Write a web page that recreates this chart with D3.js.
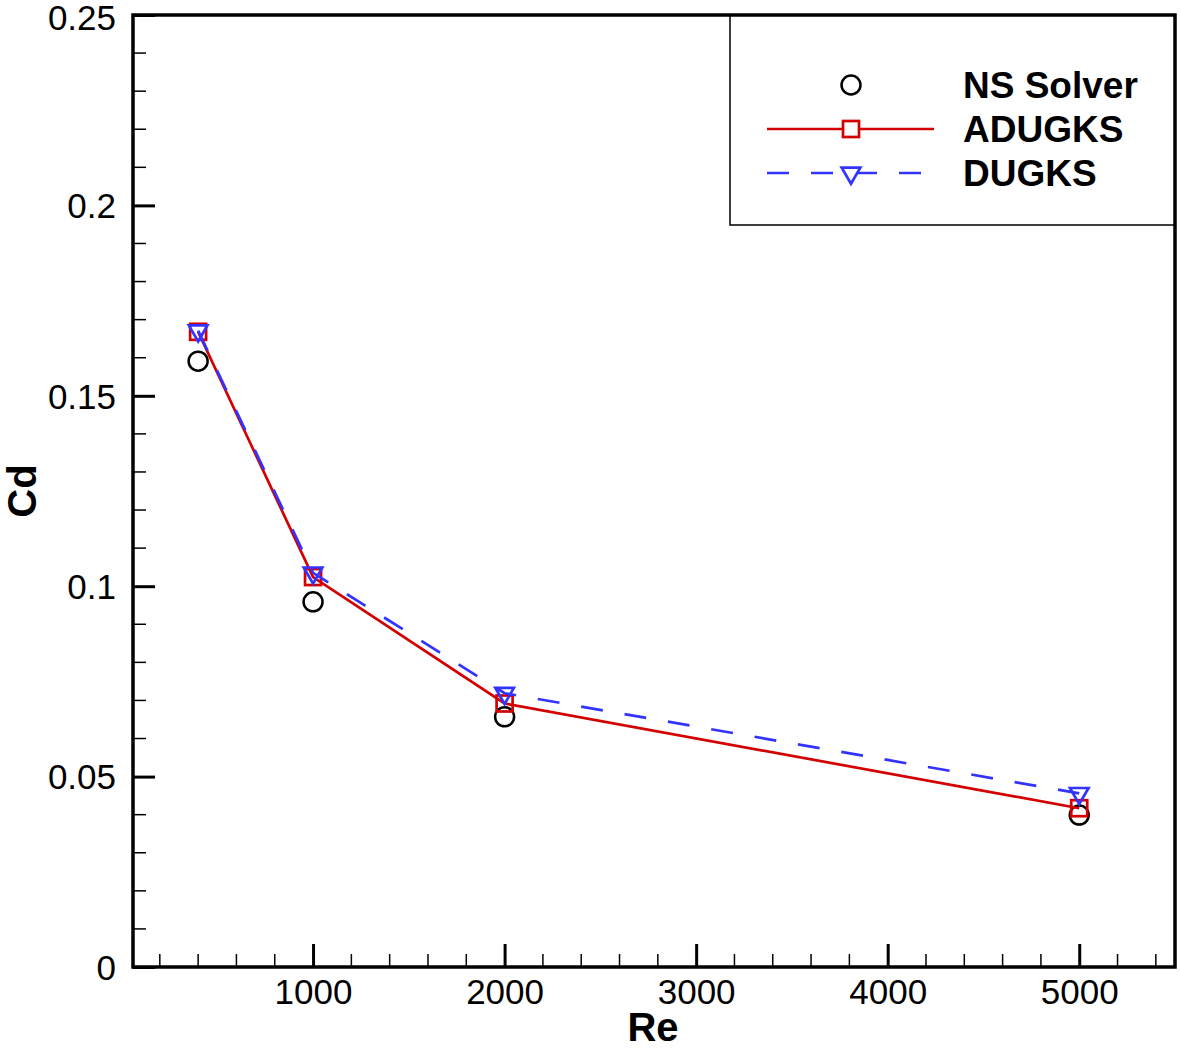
<!DOCTYPE html>
<html>
<head>
<meta charset="utf-8">
<script src="https://cdn.jsdelivr.net/npm/d3@7"></script>
<style>
  body { margin: 0; background: white; }
  svg { font-family: Arial, "Liberation Sans", sans-serif; }
</style>
</head>
<body>
<div id="chart"></div>
<script>
// data
let re_values = [400, 1000, 2000, 5000];
let ns_cd = [0.1591, 0.0959, 0.0657, 0.0399];
let adugks_cd = [0.1668, 0.1024, 0.0692, 0.0417];
let dugks_cd = [0.1671, 0.1035, 0.0719, 0.0456];
let x_ticks = [1000, 2000, 3000, 4000, 5000];
let y_ticks = [0, 0.05, 0.1, 0.15, 0.2, 0.25];
let legend_names = ["NS Solver", "ADUGKS", "DUGKS"];

let chart_width = 1180;
let chart_height = 1050;
let plot_left = 133, plot_right = 1175, plot_top = 15, plot_bottom = 967;

let svg = d3.select("#chart")
    .append("svg")
    .attr("width", chart_width)
    .attr("height", chart_height);

let xScale = d3.scaleLinear()
    .domain([60, 5500])
    .range([plot_left, plot_right]);

let yScale = d3.scaleLinear()
    .domain([0, 0.25])
    .range([plot_bottom, plot_top]);

// minor ticks
let x_minor = d3.range(200, 5500, 200).filter(function(v) { return v % 1000 != 0; });
let y_minor = d3.range(1, 25).filter(function(i) { return i % 5 != 0; }).map(function(i) { return i / 100; });

svg.append("g")
    .selectAll("line")
    .data(x_minor)
    .enter()
    .append("line")
    .attr("x1", function(d) { return xScale(d); })
    .attr("x2", function(d) { return xScale(d); })
    .attr("y1", plot_bottom)
    .attr("y2", plot_bottom - 13)
    .attr("stroke", "black")
    .attr("stroke-width", 1.5);

svg.append("g")
    .selectAll("line")
    .data(y_minor)
    .enter()
    .append("line")
    .attr("x1", plot_left)
    .attr("x2", plot_left + 13)
    .attr("y1", function(d) { return yScale(d); })
    .attr("y2", function(d) { return yScale(d); })
    .attr("stroke", "black")
    .attr("stroke-width", 1.5);

// major axes
let x_axis = svg.append("g")
    .attr("transform", "translate(0," + plot_bottom + ")")
    .call(d3.axisBottom(xScale).tickValues(x_ticks).tickSize(-23).tickSizeOuter(0)
        .tickFormat(d3.format("d")));

let y_axis = svg.append("g")
    .attr("transform", "translate(" + plot_left + ",0)")
    .call(d3.axisLeft(yScale).tickValues(y_ticks).tickSize(-22).tickSizeOuter(0)
        .tickFormat(function(d) { return d == 0 ? "0" : String(+d.toFixed(2)); }));

svg.selectAll(".tick line").attr("stroke-width", 3);
svg.selectAll(".domain").remove();
x_axis.attr("font-size", 35).attr("font-family", "Arial, 'Liberation Sans', sans-serif");
y_axis.attr("font-size", 35).attr("font-family", "Arial, 'Liberation Sans', sans-serif");
svg.selectAll(".tick text").attr("fill", "black");
x_axis.selectAll(".tick text").attr("y", 12).attr("dy", "0.71em");
y_axis.selectAll(".tick text").attr("x", -17).attr("dy", "0.35em");
// keep the top label inside the page
y_axis.selectAll(".tick").filter(function(d) { return d == 0.25; }).select("text").attr("dy", "0.42em");

// frame
svg.append("rect")
    .attr("x", plot_left)
    .attr("y", plot_top)
    .attr("width", plot_right - plot_left)
    .attr("height", plot_bottom - plot_top)
    .attr("fill", "none")
    .attr("stroke", "black")
    .attr("stroke-width", 3.5);

let chart_line = d3.line()
    .x(function(d) { return xScale(d[0]); })
    .y(function(d) { return yScale(d[1]); });

let zip = function(ys) { return re_values.map(function(x, i) { return [x, ys[i]]; }); };

let red = "#d40000";
let blue = "#3333ff";

// NS Solver circles
svg.append("g")
    .selectAll("circle")
    .data(zip(ns_cd))
    .enter()
    .append("circle")
    .attr("cx", function(d) { return xScale(d[0]); })
    .attr("cy", function(d) { return yScale(d[1]); })
    .attr("r", 9.5)
    .attr("fill", "none")
    .attr("stroke", "black")
    .attr("stroke-width", 2.5);

// ADUGKS
svg.append("path")
    .attr("d", chart_line(zip(adugks_cd)))
    .attr("fill", "none")
    .attr("stroke", red)
    .attr("stroke-width", 2.7);

svg.append("g")
    .selectAll("rect")
    .data(zip(adugks_cd))
    .enter()
    .append("rect")
    .attr("x", function(d) { return xScale(d[0]) - 8; })
    .attr("y", function(d) { return yScale(d[1]) - 8; })
    .attr("width", 16)
    .attr("height", 16)
    .attr("fill", "none")
    .attr("stroke", red)
    .attr("stroke-width", 2.7);

// DUGKS
svg.append("path")
    .attr("d", chart_line(zip(dugks_cd)))
    .attr("fill", "none")
    .attr("stroke", blue)
    .attr("stroke-width", 2.7)
    .attr("stroke-dasharray", "22,22");

let tri = d3.symbol().type(d3.symbolTriangle).size(150);

svg.append("g")
    .selectAll("path")
    .data(zip(dugks_cd))
    .enter()
    .append("path")
    .attr("d", tri)
    .attr("transform", function(d) { return "translate(" + xScale(d[0]) + "," + yScale(d[1]) + ") rotate(180)"; })
    .attr("fill", "none")
    .attr("stroke", blue)
    .attr("stroke-width", 2.7);

// legend
let legend = svg.append("g");
legend.append("path")
    .attr("d", "M730,15 V225 H1175")
    .attr("fill", "none")
    .attr("stroke", "black")
    .attr("stroke-width", 1.5);

let legend_y = [85, 129, 173];
legend.append("circle")
    .attr("cx", 851).attr("cy", legend_y[0]).attr("r", 9.5)
    .attr("fill", "none").attr("stroke", "black").attr("stroke-width", 2.5);
legend.append("line")
    .attr("x1", 767).attr("x2", 934).attr("y1", legend_y[1]).attr("y2", legend_y[1])
    .attr("stroke", red).attr("stroke-width", 2.7);
legend.append("rect")
    .attr("x", 843).attr("y", legend_y[1] - 8).attr("width", 16).attr("height", 16)
    .attr("fill", "white").attr("stroke", red).attr("stroke-width", 2.7);
legend.append("line")
    .attr("x1", 767).attr("x2", 934).attr("y1", legend_y[2]).attr("y2", legend_y[2])
    .attr("stroke", blue).attr("stroke-width", 2.7).attr("stroke-dasharray", "22,22");
legend.append("path")
    .attr("d", tri)
    .attr("transform", "translate(851," + legend_y[2] + ") rotate(180)")
    .attr("fill", "white").attr("stroke", blue).attr("stroke-width", 2.7);

legend.selectAll("text")
    .data(legend_names)
    .enter()
    .append("text")
    .attr("x", 963)
    .attr("y", function(d, i) { return legend_y[i]; })
    .attr("dy", "0.36em")
    .attr("font-size", 37)
    .attr("font-weight", "bold")
    .text(function(d) { return d; });

// axis titles
svg.append("text")
    .attr("x", 653)
    .attr("y", 1041)
    .attr("text-anchor", "middle")
    .attr("font-size", 40)
    .attr("font-weight", "bold")
    .text("Re");

svg.append("text")
    .attr("transform", "translate(36,491) rotate(-90)")
    .attr("text-anchor", "middle")
    .attr("font-size", 40)
    .attr("font-weight", "bold")
    .text("Cd");
</script>
</body>
</html>
